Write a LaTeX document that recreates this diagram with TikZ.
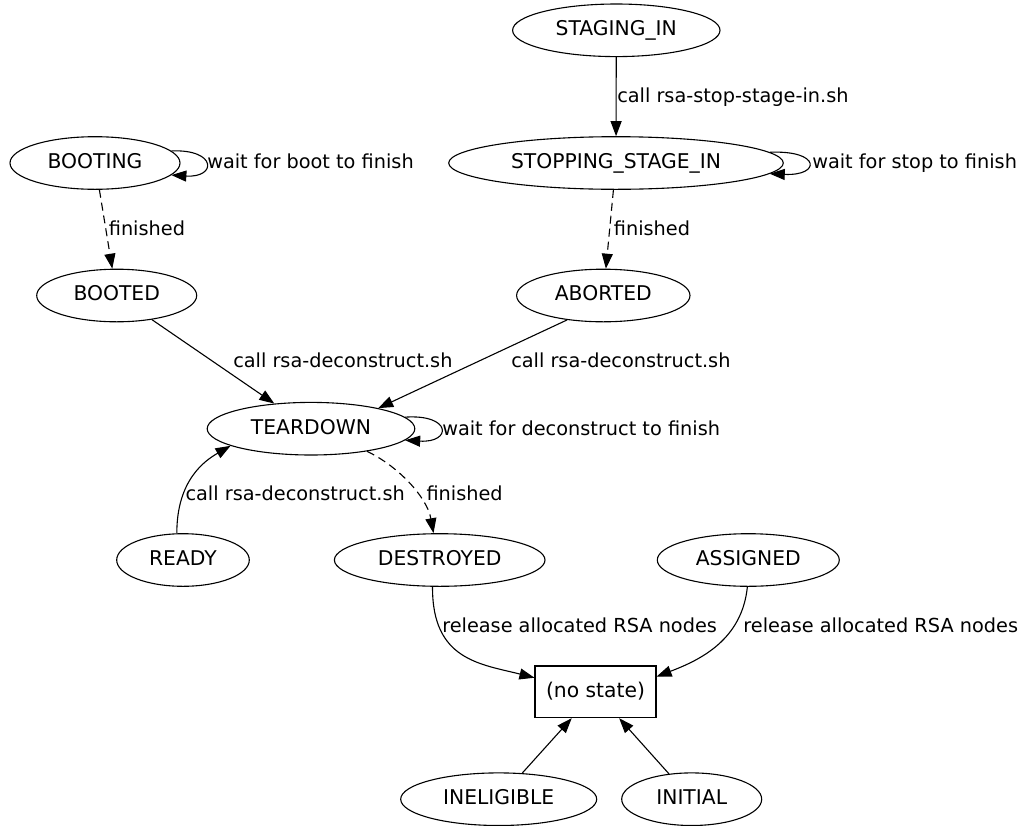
\documentclass[tikz,border=0pt]{standalone}
\usepackage{fontspec}
\setmainfont{DejaVu Sans}
\usetikzlibrary{arrows.meta,shapes.geometric}
\begin{document}
\begin{tikzpicture}[x=1pt,y=-1pt,line width=1.1pt,
  st/.style={draw,ellipse,inner sep=0pt,minimum height=52.6pt,
    font=\fontsize{20.3}{24}\selectfont,text height=15.8pt,text depth=5.1pt},
  box/.style={draw,rectangle,inner sep=0pt,minimum width=121pt,minimum height=51.7pt,
    font=\fontsize{20.3}{24}\selectfont,text height=15.8pt,text depth=5.1pt},
  lbl/.style={anchor=base west,inner sep=0pt,font=\fontsize{19.3}{23}\selectfont},
  arr/.style={-{Triangle[length=15pt,width=11pt]}},
  dsh/.style={dash pattern=on 8pt off 5pt}]
\useasboundingbox (0,0) rectangle (1031,825);
% states
\node[st,minimum width=207.4pt] (stag) at (616.3,30.3) {STAGING\_IN};
\node[st,minimum width=334.6pt] (stop) at (616,163) {STOPPING\_STAGE\_IN};
\node[st,minimum width=170pt] (boot) at (95,163) {BOOTING};
\node[st,minimum width=160pt] (booted) at (116.7,295.5) {BOOTED};
\node[st,minimum width=173.4pt] (abort) at (603.3,295.5) {ABORTED};
\node[st,minimum width=207.6pt] (tear) at (311,428.7) {TEARDOWN};
\node[st,minimum width=132.6pt] (ready) at (183,560) {READY};
\node[st,minimum width=210.6pt] (destr) at (439.7,560) {DESTROYED};
\node[st,minimum width=182pt] (assig) at (748.3,560) {ASSIGNED};
\node[box] (ns) at (595.5,691.8) {(no state)};
\node[st,minimum width=196pt] (inel) at (498.7,799.2) {INELIGIBLE};
\node[st,minimum width=140pt] (init) at (691.7,799.2) {INITIAL};
% edges
\draw[arr] (stag) -- (stop);
\draw[arr] (stop.4) .. controls (821,150) and (821,176) .. (stop.-4);
\draw[arr] (boot.9) .. controls (217,149) and (217,178) .. (boot.-9);
\draw[arr] (tear.7.5) .. controls (452,414) and (452,443) .. (tear.-7);
\draw[arr,dsh] (boot) -- (booted);
\draw[arr,dsh] (stop) -- (abort);
\draw[arr] (booted) -- (tear);
\draw[arr] (abort.214.7) -- (tear.17.2);
\draw[arr] (ready.103) .. controls (176.7,480) and (205,460.5) .. (tear.192.3);
\draw[arr,dsh] (tear.338.2) .. controls (398,466) and (427,497) .. (destr.103.5);
\draw[arr] (destr.255.6) .. controls (432,660) and (480,664) .. (ns.167.4);
\draw[arr] (assig.268) .. controls (742,640) and (700,660) .. (ns.14);
\draw[arr] (inel) -- (ns);
\draw[arr] (init) -- (ns);
% labels
\node[lbl] (l1) at (206.7,168.5) {wait for boot to finish};
\node[lbl] (l2) at (616.7,102.7) {call rsa-stop-stage-in.sh};
\node[lbl] (l3) at (811.7,168.5) {wait for stop to finish};
\node[lbl] (l4) at (108.3,235.3) {finished};
\node[lbl] (l5) at (613.3,235.3) {finished};
\node[lbl] (l6) at (232.7,367.7) {call rsa-deconstruct.sh};
\node[lbl] (l7) at (510.7,367.7) {call rsa-deconstruct.sh};
\node[lbl] (l8) at (441.7,435) {wait for deconstruct to finish};
\node[lbl] (l9) at (185,500.3) {call rsa-deconstruct.sh};
\node[lbl] (l10) at (426,500.3) {finished};
\node[lbl] (l11) at (441.7,632.3) {release allocated RSA nodes};
\node[lbl] (l12) at (742.8,632.3) {release allocated RSA nodes};
\end{tikzpicture}
\end{document}
